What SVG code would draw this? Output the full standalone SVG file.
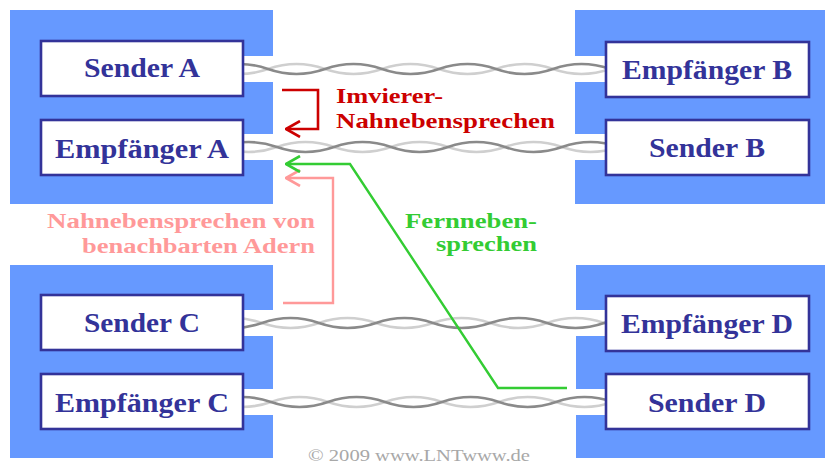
<svg xmlns="http://www.w3.org/2000/svg" width="825" height="468" viewBox="0 0 825 468">
<style>
.blk{fill:#6699ff}
.box{fill:#ffffff;stroke:#333399;stroke-width:2.6}
.lbl{font-family:"Liberation Serif","Times New Roman",serif;font-weight:bold;font-size:27px;fill:#333399;text-anchor:middle}
.note{font-family:"Liberation Serif","Times New Roman",serif;font-weight:bold;font-size:21px}
.band{fill:#ffffff}
.s1{fill:none;stroke:#8a8a8a;stroke-width:2.6}
.s2{fill:none;stroke:#cfcfcf;stroke-width:2.6}
.copy{font-family:"Liberation Serif","Times New Roman",serif;font-size:16px;fill:#a8a8a8}
</style>
<defs>
<marker id="ar" markerUnits="userSpaceOnUse" viewBox="0 0 16 18" refX="15" refY="9" markerWidth="16" markerHeight="18" orient="auto"><path d="M1,1 L15,9 L1,17" fill="none" stroke="#cc0000" stroke-width="2.6"/></marker>
<marker id="ap" markerUnits="userSpaceOnUse" viewBox="0 0 16 18" refX="15" refY="9" markerWidth="16" markerHeight="18" orient="auto"><path d="M1,1 L15,9 L1,17" fill="none" stroke="#ff9999" stroke-width="2.6"/></marker>
<marker id="ag" markerUnits="userSpaceOnUse" viewBox="0 0 16 18" refX="15" refY="9" markerWidth="16" markerHeight="18" orient="auto"><path d="M1,1 L15,9 L1,17" fill="none" stroke="#33cc33" stroke-width="2.6"/></marker>
</defs>
<rect width="825" height="468" fill="#ffffff"/>
<g id="station-left-top"><rect class="blk" x="10" y="10" width="263" height="194"/></g>
<g id="station-right-top"><rect class="blk" x="575" y="10" width="250" height="194"/></g>
<g id="station-left-bottom"><rect class="blk" x="10" y="265" width="263" height="193"/></g>
<g id="station-right-bottom"><rect class="blk" x="576" y="265" width="249" height="193"/></g>
<g id="connectors">
<g id="wire-ab">
<rect class="band" x="243" y="56" width="363" height="26"/>
<path class="s2" d="M211,69 Q239.5,79 268,69 T325,69 T382,69 T439,69 T496,69 T553,69 T610,69"/>
<path class="s1" d="M211,69 Q239.5,59 268,69 T325,69 T382,69 T439,69 T496,69 T553,69 T610,69"/>
</g>
<g id="wire-ba">
<rect class="band" x="243" y="134" width="363" height="26"/>
<path class="s2" d="M220,147 Q248.5,157 277,147 T334,147 T391,147 T448,147 T505,147 T562,147 T619,147"/>
<path class="s1" d="M220,147 Q248.5,137 277,147 T334,147 T391,147 T448,147 T505,147 T562,147 T619,147"/>
</g>
<g id="wire-cd">
<rect class="band" x="243" y="310" width="363" height="26"/>
<path class="s2" d="M205,323 Q233.5,313 262,323 T319,323 T376,323 T433,323 T490,323 T547,323 T604,323 T661,323"/>
<path class="s1" d="M205,323 Q233.5,333 262,323 T319,323 T376,323 T433,323 T490,323 T547,323 T604,323 T661,323"/>
</g>
<g id="wire-dc">
<rect class="band" x="243" y="389" width="363" height="26"/>
<path class="s2" d="M214,402 Q242.5,412 271,402 T328,402 T385,402 T442,402 T499,402 T556,402 T613,402"/>
<path class="s1" d="M214,402 Q242.5,392 271,402 T328,402 T385,402 T442,402 T499,402 T556,402 T613,402"/>
</g>
<path id="next-red" d="M282,90 L318,90 L318,129 L286,129" fill="none" stroke="#cc0000" stroke-width="2.6" marker-end="url(#ar)"/>
<path id="next-pink" d="M283,303 L333,303 L333,178 L286,178" fill="none" stroke="#ff9999" stroke-width="2.4" marker-end="url(#ap)"/>
<path id="fext-green" d="M567,388 L498,388 L350,164 L286,164" fill="none" stroke="#33cc33" stroke-width="2.4" marker-end="url(#ag)"/>
</g>
<g id="sender-a"><rect class="box" x="41" y="41" width="202" height="55"/><text class="lbl" x="142" y="77" textLength="116" lengthAdjust="spacingAndGlyphs">Sender A</text></g>
<g id="empfaenger-a"><rect class="box" x="41" y="120" width="202" height="55"/><text class="lbl" x="142" y="158" textLength="174" lengthAdjust="spacingAndGlyphs">Empfänger A</text></g>
<g id="empfaenger-b"><rect class="box" x="606" y="42" width="203" height="55"/><text class="lbl" x="707" y="79" textLength="170" lengthAdjust="spacingAndGlyphs">Empfänger B</text></g>
<g id="sender-b"><rect class="box" x="606" y="120" width="203" height="55"/><text class="lbl" x="707" y="157" textLength="116" lengthAdjust="spacingAndGlyphs">Sender B</text></g>
<g id="sender-c"><rect class="box" x="41" y="295" width="202" height="55"/><text class="lbl" x="142" y="332" textLength="116" lengthAdjust="spacingAndGlyphs">Sender C</text></g>
<g id="empfaenger-c"><rect class="box" x="41" y="374" width="202" height="55"/><text class="lbl" x="142" y="412" textLength="174" lengthAdjust="spacingAndGlyphs">Empfänger C</text></g>
<g id="empfaenger-d"><rect class="box" x="606" y="296" width="203" height="55"/><text class="lbl" x="707" y="333" textLength="172" lengthAdjust="spacingAndGlyphs">Empfänger D</text></g>
<g id="sender-d"><rect class="box" x="606" y="374" width="203" height="55"/><text class="lbl" x="707" y="412" textLength="118" lengthAdjust="spacingAndGlyphs">Sender D</text></g>
<g id="label-red" class="note" fill="#cc0000">
<text x="336" y="103" textLength="107" lengthAdjust="spacingAndGlyphs">Imvierer-</text>
<text x="336" y="128" textLength="219" lengthAdjust="spacingAndGlyphs">Nahnebensprechen</text>
</g>
<g id="label-pink" class="note" fill="#ff9999" text-anchor="end">
<text x="315" y="228" textLength="268" lengthAdjust="spacingAndGlyphs">Nahnebensprechen von</text>
<text x="315" y="253" textLength="233" lengthAdjust="spacingAndGlyphs">benachbarten Adern</text>
</g>
<g id="label-green" class="note" fill="#33cc33" text-anchor="end">
<text x="537" y="228" textLength="132" lengthAdjust="spacingAndGlyphs">Fernneben-</text>
<text x="537" y="251" textLength="101" lengthAdjust="spacingAndGlyphs">sprechen</text>
</g>
<text class="copy" x="308" y="461" textLength="222" lengthAdjust="spacingAndGlyphs">© 2009 www.LNTwww.de</text>
</svg>
